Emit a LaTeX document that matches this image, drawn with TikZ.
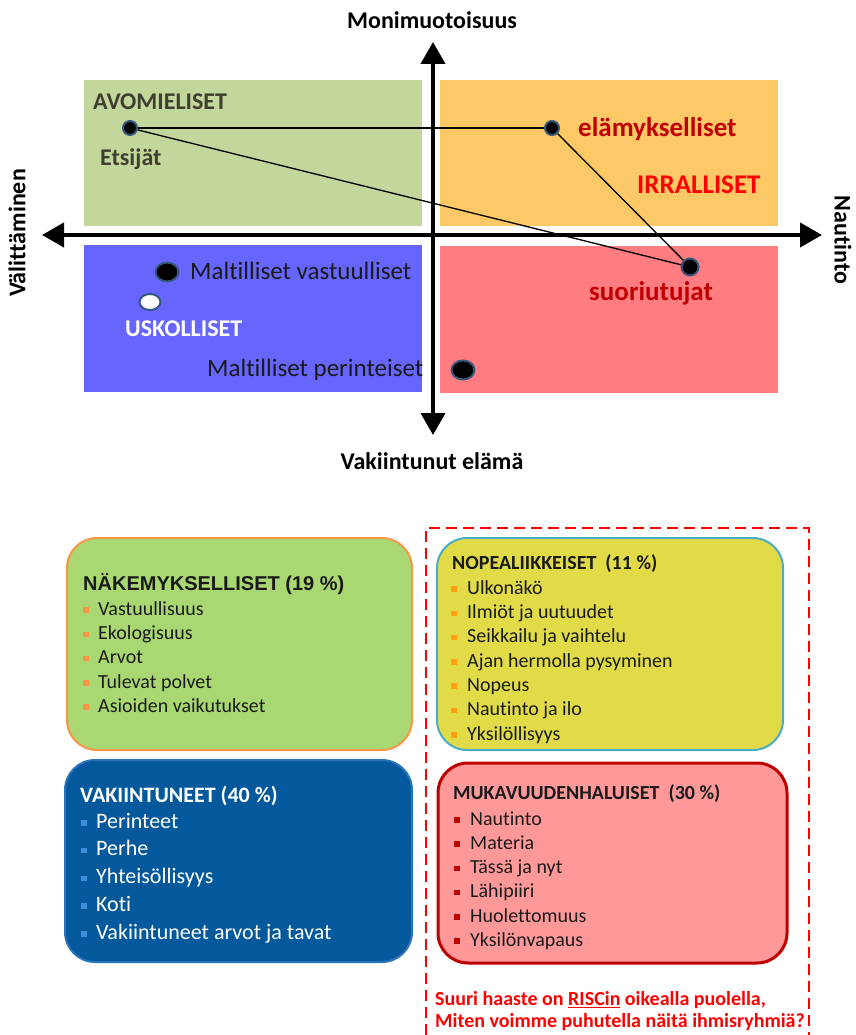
\documentclass[tikz,border=0pt]{standalone}
\usepackage{fontspec}
\setmainfont{Carlito}[Ligatures=NoCommon]
\newfontfamily\arialfont{Liberation Sans}
\usepackage{tikz}
\usetikzlibrary{arrows.meta,shapes.geometric}
\definecolor{avogreen}{HTML}{C3D69B}
\definecolor{irrorange}{HTML}{FDC866}
\definecolor{uskblue}{HTML}{6666FF}
\definecolor{suopink}{HTML}{FF7C80}
\definecolor{dotrim}{HTML}{36587F}
\definecolor{avodark}{HTML}{3F3F30}
\definecolor{lblred}{HTML}{C00000}
\definecolor{brightred}{HTML}{FF0000}
\definecolor{nkfill}{HTML}{A9D873}
\definecolor{nkline}{HTML}{F79646}
\definecolor{npfill}{HTML}{E1DB48}
\definecolor{npline}{HTML}{4BACC6}
\definecolor{npbul}{HTML}{FFA010}
\definecolor{vkfill}{HTML}{04599C}
\definecolor{vkline}{HTML}{2A74BB}
\definecolor{vkbul}{HTML}{3C8FDC}
\definecolor{mkfill}{HTML}{FF9999}
\definecolor{mkline}{HTML}{C00000}
\definecolor{txtdark}{HTML}{1A1A1A}

\begin{document}
\begin{tikzpicture}[
    x=1pt,y=-1pt,
    ax/.style   = {line width=4pt,{Triangle[length=22pt,width=24pt]}-{Triangle[length=22pt,width=24pt]}},
    axl/.style  = {font=\fontsize{24}{28}\selectfont\bfseries,inner sep=0pt},
    dot/.style  = {circle,fill=black,draw=dotrim,line width=2pt,inner sep=0pt,minimum size=14pt},
    bigdot/.style = {ellipse,fill=black,draw=dotrim,line width=2pt,inner sep=0pt,
                   minimum width=23pt,minimum height=19pt},
    lnk/.style  = {line width=1.3pt,black},
    ql/.style   = {font=\fontsize{25}{28}\selectfont,inner sep=0pt,anchor=west,yshift=-4.5pt,
                   text height=.65em,text depth=0pt,text=txtdark},
    qlb/.style  = {ql,font=\fontsize{24}{28}\selectfont\bfseries},
    qlr/.style  = {ql,font=\fontsize{27}{30}\selectfont\bfseries,yshift=-1pt},
    rbox/.style = {rectangle,rounded corners=30pt,line width=2pt,inner sep=0pt},
    hd/.style   = {font=\fontsize{20}{24}\selectfont\bfseries,inner sep=0pt,anchor=west,yshift=-4.5pt,
                   text height=.65em,text depth=0pt,text=txtdark},
    itm/.style  = {font=\fontsize{20}{24}\selectfont,inner sep=0pt,anchor=west,yshift=-4pt,
                   text height=.65em,text depth=0pt,text=txtdark},
    bul/.style  = {rectangle,inner sep=0pt,minimum size=5.5pt,yshift=-2pt},
    note/.style = {font=\fontsize{20}{24}\selectfont\bfseries,inner sep=0pt,anchor=west,yshift=-4.5pt,
                   text height=.65em,text depth=0pt,text=brightred},
    frame/.style = {brightred,line width=2.5pt,dash pattern=on 11pt off 6pt},
  ]
  \useasboundingbox (0,0) rectangle (855,1035);

  \fill[avogreen]  (84,80)   rectangle (422,226);
  \fill[irrorange] (440,80)  rectangle (778,226);
  \fill[uskblue]   (84,245)  rectangle (422,392);
  \fill[suopink]   (440,246) rectangle (778,393);

  \coordinate (w) at (42,235);
  \coordinate (e) at (822,235);
  \coordinate (n) at (433,42);
  \coordinate (s) at (433,435);
  \draw[ax] (w) -- (e);
  \draw[ax] (s) -- (n);

  \node[axl]           (mon) at (432,20)  {Monimuotoisuus};
  \node[axl]           (vak) at (432,461) {Vakiintunut elämä};
  \node[axl,rotate=90] (val) at (17,233)  {Välittäminen};
  \node[axl,rotate=-90](nau) at (843,240) {Nautinto};

  \node[dot]                  (etsi) at (130,128) {};
  \node[dot]                  (elam) at (552,128) {};
  \node[dot,minimum size=17pt](suor) at (690,267) {};
  \node[bigdot]               (malv) at (167,272) {};
  \node[bigdot,fill=white,minimum width=21pt,minimum height=16pt] (usk) at (150,302) {};
  \node[bigdot]               (malp) at (463,370) {};

  \draw[lnk] (etsi) -- (elam);
  \draw[lnk] (elam) -- (suor);
  \draw[lnk] (etsi) -- (suor);

  \node[qlb,text=avodark]   (avol)  at (93,102)  {AVOMIELISET};
  \node[qlb,text=avodark]   (etsl)  at (100,158) {Etsijät};
  \node[qlr,text=lblred]    (elaml) at (578,128) {elämykselliset};
  \node[qlr,text=brightred] (irrl)  at (637,185) {IRRALLISET};
  \node[qlr,text=lblred]    (suorl) at (589,292) {suoriutujat};
  \node[ql]                 (malvl) at (190,272) {Maltilliset vastuulliset};
  \node[qlb,text=white]     (uskl)  at (125,329) {USKOLLISET};
  \node[ql]                 (malpl) at (207,369) {Maltilliset perinteiset};

  \draw[frame] (426,1035) -- (426,528) -- (809,528) -- (809,1035);

  \node[rbox,fill=nkfill,draw=nkline,minimum width=345,minimum height=212] (nkbox) at (239.5,644) {};
  \node[rbox,fill=npfill,draw=npline,minimum width=346,minimum height=212] (npbox) at (610,644) {};
  \node[rbox,fill=vkfill,draw=vkline,minimum width=347,minimum height=202] (vkbox) at (238.5,861) {};
  \node[rbox,fill=mkfill,draw=mkline,line width=3pt,minimum width=349,minimum height=200] (mkbox) at (612.5,863) {};

  \node[hd,font=\arialfont\fontsize{20}{24}\selectfont\bfseries] (nkh) at (83,583) {NÄKEMYKSELLISET (19 \%)};
  \foreach \t [count=\i] in {Vastuullisuus,Ekologisuus,Arvot,Tulevat polvet,Asioiden vaikutukset}{
    \node[bul,fill=nkline] (nkb\i) at (86,{583.7+24.3*\i}) {};
    \node[itm] (nk\i) at (98,{583.7+24.3*\i}) {\t};
  }

  \node[hd] (nph) at (452,562) {NOPEALIIKKEISET\ \ (11 \%)};
  \foreach \t [count=\i] in {Ulkonäkö,Ilmiöt ja uutuudet,Seikkailu ja vaihtelu,Ajan hermolla pysyminen,Nopeus,Nautinto ja ilo,Yksilöllisyys}{
    \node[bul,fill=npbul] (npb\i) at (454,{562.7+24.3*\i}) {};
    \node[itm] (np\i) at (467,{562.7+24.3*\i}) {\t};
  }

  \node[hd,text=white,font=\fontsize{22}{26}\selectfont\bfseries] (vkh) at (80,795) {VAKIINTUNEET (40 \%)};
  \foreach \t [count=\i] in {Perinteet,Perhe,Yhteisöllisyys,Koti,Vakiintuneet arvot ja tavat}{
    \node[bul,fill=vkbul] (vkb\i) at (84,{793.3+27.7*\i}) {};
    \node[itm,text=white,font=\fontsize{22}{26}\selectfont] (vk\i) at (96,{793.3+27.7*\i}) {\t};
  }

  \node[hd] (mkh) at (453,792) {MUKAVUUDENHALUISET\ \ (30 \%)};
  \foreach \t [count=\i] in {Nautinto,Materia,Tässä ja nyt,Lähipiiri,Huolettomuus,Yksilönvapaus}{
    \node[bul,fill=mkline] (mkb\i) at (457,{793.8+24.2*\i}) {};
    \node[itm] (mk\i) at (470,{793.8+24.2*\i}) {\t};
  }

  \node[note] (q1) at (435,998)  {Suuri haaste on \underline{RISCin} oikealla puolella,};
  \node[note] (q2) at (435,1020) {Miten voimme puhutella näitä ihmisryhmiä?};

\end{tikzpicture}
\end{document}
